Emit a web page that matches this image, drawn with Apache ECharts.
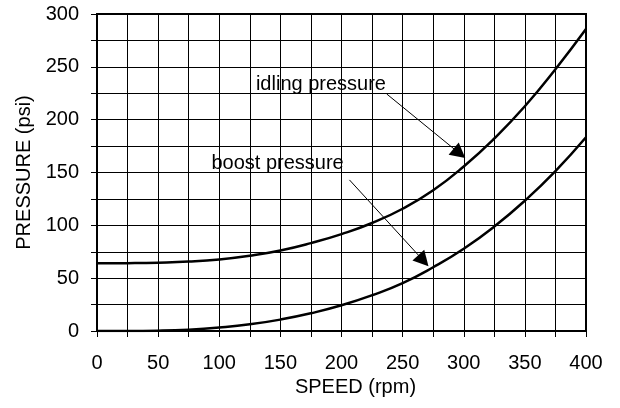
<!DOCTYPE html>
<html>
<head>
<meta charset="utf-8">
<script src="https://cdn.jsdelivr.net/npm/echarts@6/dist/echarts.min.js"></script>
<style>
html,body{margin:0;padding:0;background:#fff;}
#chart{width:620px;height:408px;}
</style>
</head>
<body>
<div id="chart"></div>
<script>
// Data
var speed = [0, 25, 50, 75, 100, 125, 150, 175, 200, 225, 250, 275, 300, 325, 350, 375, 400];
var idlingPressure = [64, 64.2, 64.7, 65.7, 67.7, 71.2, 76.2, 83.2, 91.7, 102.2, 115.7, 133.2, 155.7, 182.2, 212.7, 247.7, 285.7];
var boostPressure = [0, 0, 0.3, 1.3, 3.3, 6.3, 10.8, 16.8, 24.3, 33.8, 45.3, 60.3, 77.8, 98.8, 123.3, 151.3, 183.3];
var xTicks = [0, 50, 100, 150, 200, 250, 300, 350, 400];
var yTicks = [0, 50, 100, 150, 200, 250, 300];
// Annotations (data coordinates)
var idlingLabel = {text: 'idling pressure', at: [183.2, 233.1]};
var boostLabel = {text: 'boost pressure', at: [147.7, 158.8]};
var idlingArrow = {from: [237, 224.3], to: [296.5, 168.1]};
var boostArrow = {from: [206.5, 143], to: [267, 66.6]};

function pairs(xs, ys) { return xs.map(function (x, i) { return [x, ys[i]]; }); }

var FONT = 'Liberation Sans, Arial, sans-serif';
var chart = echarts.init(document.getElementById('chart'), null, {renderer: 'canvas'});
var axisCommon = {
  type: 'value',
  axisLine: {show: true, onZero: false, lineStyle: {color: '#000', width: 2}},
  axisTick: {show: true, length: 6, lineStyle: {color: '#000', width: 1}},
  minorTick: {show: true, splitNumber: 2, length: 6, lineStyle: {color: '#000', width: 1}},
  splitLine: {show: true, lineStyle: {color: '#000', width: 1}},
  minorSplitLine: {show: true, lineStyle: {color: '#000', width: 1}},
  axisLabel: {color: '#000', fontSize: 20, fontFamily: FONT},
  nameTextStyle: {color: '#000', fontSize: 20, fontFamily: FONT}
};
var option = {
  animation: false,
  backgroundColor: '#fff',
  grid: {left: 97, right: 34, top: 14, bottom: 77, show: true, borderColor: '#000', borderWidth: 2, backgroundColor: 'transparent'},
  xAxis: Object.assign({}, axisCommon, {
    min: xTicks[0], max: xTicks[xTicks.length - 1], interval: 50,
    name: 'SPEED (rpm)', nameLocation: 'middle', nameGap: 45,
    nameTextStyle: {color: '#000', fontSize: 20, fontFamily: FONT, padding: [0, 0, 0, 28]},
    axisLabel: {color: '#000', fontSize: 20, fontFamily: FONT, margin: 22}
  }),
  yAxis: Object.assign({}, axisCommon, {
    min: yTicks[0], max: yTicks[yTicks.length - 1], interval: 50,
    name: 'PRESSURE (psi)', nameLocation: 'middle', nameGap: 63, nameRotate: 90,
    axisLabel: {color: '#000', fontSize: 20, fontFamily: FONT, margin: 18}
  }),
  series: [
    {
      type: 'line', name: 'idling', data: pairs(speed, idlingPressure), smooth: 0.5,
      showSymbol: false, lineStyle: {color: '#000', width: 2.5}, z: 5,
      markLine: {
        silent: true, symbol: ['none', 'triangle'], symbolSize: [16, 15],
        lineStyle: {color: '#000', width: 1, type: 'solid'}, label: {show: false},
        itemStyle: {color: '#000'},
        data: [[{coord: idlingArrow.from}, {coord: idlingArrow.to}]]
      },
      markPoint: {
        silent: true, symbol: 'circle', symbolSize: 0,
        label: {show: true, position: 'inside', color: '#000', fontSize: 20, fontFamily: FONT, formatter: idlingLabel.text},
        data: [{coord: idlingLabel.at}]
      }
    },
    {
      type: 'line', name: 'boost', data: pairs(speed, boostPressure), smooth: 0.5,
      showSymbol: false, lineStyle: {color: '#000', width: 2.5}, z: 5,
      markLine: {
        silent: true, symbol: ['none', 'triangle'], symbolSize: [16, 15],
        lineStyle: {color: '#000', width: 1, type: 'solid'}, label: {show: false},
        itemStyle: {color: '#000'},
        data: [[{coord: boostArrow.from}, {coord: boostArrow.to}]]
      },
      markPoint: {
        silent: true, symbol: 'circle', symbolSize: 0,
        label: {show: true, position: 'inside', color: '#000', fontSize: 20, fontFamily: FONT, formatter: boostLabel.text},
        data: [{coord: boostLabel.at}]
      }
    }
  ]
};
chart.setOption(option);
</script>
</body>
</html>
